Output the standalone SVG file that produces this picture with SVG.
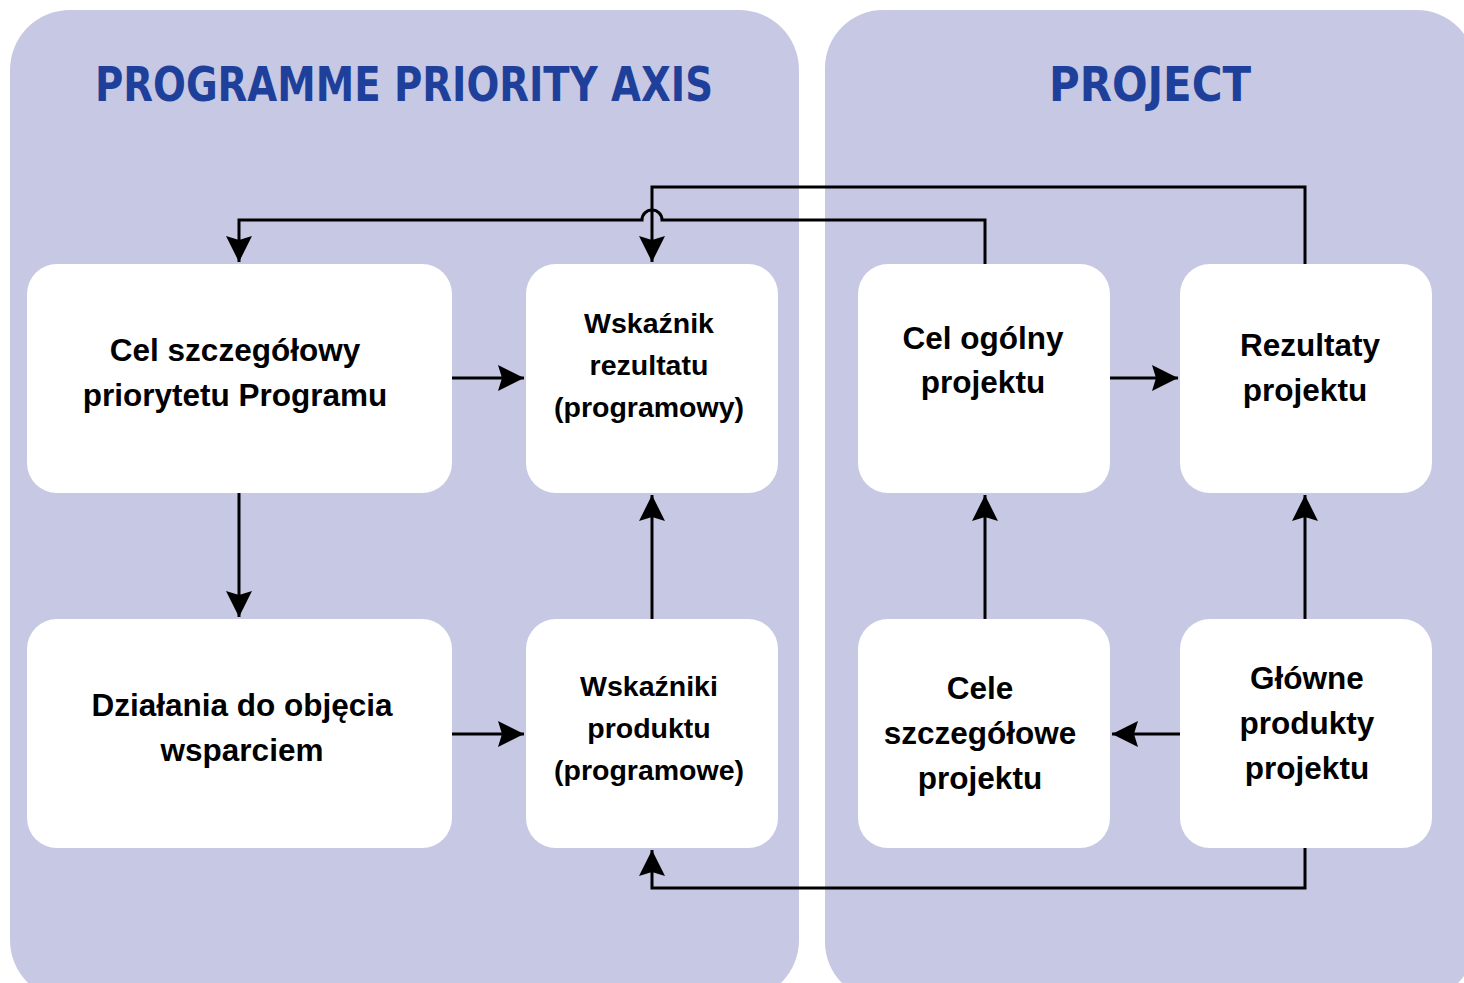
<svg xmlns="http://www.w3.org/2000/svg" width="1464" height="983" viewBox="0 0 1464 983">
<style>
.panel{fill:#c7c8e4}
.box{fill:#ffffff}
.title{font-family:"DejaVu Sans Condensed","DejaVu Sans",sans-serif;font-weight:bold;font-size:48px;fill:#1e409a;text-anchor:middle}
.t{font-family:"Liberation Sans",Arial,sans-serif;font-weight:bold;font-size:31.5px;fill:#000;text-anchor:middle}
.s{font-family:"Liberation Sans",Arial,sans-serif;font-weight:bold;font-size:28.5px;fill:#000;text-anchor:middle}
.c{fill:none;stroke:#000;stroke-width:3}
</style>
<defs>
<marker id="ah" markerUnits="userSpaceOnUse" markerWidth="28" markerHeight="28" viewBox="0 0 28 28" refX="26" refY="13" orient="auto">
<path d="M0,0 L26,13 L0,26 L4,13 z" fill="#000"/>
</marker>
</defs>
<rect width="1464" height="983" fill="#ffffff"/>
<g id="panel-left">
<rect class="panel" x="10" y="10" width="789" height="990" rx="60" ry="60"/>
<text class="title" x="404" y="101" textLength="618" lengthAdjust="spacingAndGlyphs">PROGRAMME PRIORITY AXIS</text>
</g>
<g id="panel-right">
<rect class="panel" x="825" y="10" width="650" height="990" rx="58" ry="58"/>
<text class="title" x="1150" y="101" textLength="202" lengthAdjust="spacingAndGlyphs">PROJECT</text>
</g>
<g id="connectors">
<path class="c" d="M452,378 H524" marker-end="url(#ah)"/>
<path class="c" d="M239,493 V617" marker-end="url(#ah)"/>
<path class="c" d="M452,734 H524" marker-end="url(#ah)"/>
<path class="c" d="M652,619 V495" marker-end="url(#ah)"/>
<path class="c" d="M1110,378 H1178" marker-end="url(#ah)"/>
<path class="c" d="M985,619 V495" marker-end="url(#ah)"/>
<path class="c" d="M1305,619 V495" marker-end="url(#ah)"/>
<path class="c" d="M1182,734 H1112" marker-end="url(#ah)"/>
<path class="c" d="M1305,848 V888 H652 V850" marker-end="url(#ah)"/>
<path class="c" d="M1305,264 V187 H652 V262" marker-end="url(#ah)"/>
<path class="c" d="M985,264 V220 H662 A10,10 0 0 0 642,220 H239 V262" marker-end="url(#ah)"/>
</g>
<g id="node-cel-szczegolowy">
<rect class="box" x="27" y="264" width="425" height="229" rx="30"/>
<text class="t" x="235" y="361">Cel szczegółowy</text>
<text class="t" x="235" y="406">priorytetu Programu</text>
</g>
<g id="node-wskaznik-rezultatu">
<rect class="box" x="526" y="264" width="252" height="229" rx="30"/>
<text class="s" x="649" y="333">Wskaźnik</text>
<text class="s" x="649" y="375">rezultatu</text>
<text class="s" x="649" y="417">(programowy)</text>
</g>
<g id="node-dzialania">
<rect class="box" x="27" y="619" width="425" height="229" rx="30"/>
<text class="t" x="242" y="716">Działania do objęcia</text>
<text class="t" x="242" y="761">wsparciem</text>
</g>
<g id="node-wskazniki-produktu">
<rect class="box" x="526" y="619" width="252" height="229" rx="30"/>
<text class="s" x="649" y="696">Wskaźniki</text>
<text class="s" x="649" y="738">produktu</text>
<text class="s" x="649" y="780">(programowe)</text>
</g>
<g id="node-cel-ogolny">
<rect class="box" x="858" y="264" width="252" height="229" rx="30"/>
<text class="t" x="983" y="349">Cel ogólny</text>
<text class="t" x="983" y="393">projektu</text>
</g>
<g id="node-rezultaty">
<rect class="box" x="1180" y="264" width="252" height="229" rx="30"/>
<text class="t" x="1310" y="356">Rezultaty</text>
<text class="t" x="1305" y="401">projektu</text>
</g>
<g id="node-cele-szczegolowe">
<rect class="box" x="858" y="619" width="252" height="229" rx="30"/>
<text class="t" x="980" y="699">Cele</text>
<text class="t" x="980" y="744">szczegółowe</text>
<text class="t" x="980" y="789">projektu</text>
</g>
<g id="node-glowne-produkty">
<rect class="box" x="1180" y="619" width="252" height="229" rx="30"/>
<text class="t" x="1307" y="689">Główne</text>
<text class="t" x="1307" y="734">produkty</text>
<text class="t" x="1307" y="779">projektu</text>
</g>
</svg>
